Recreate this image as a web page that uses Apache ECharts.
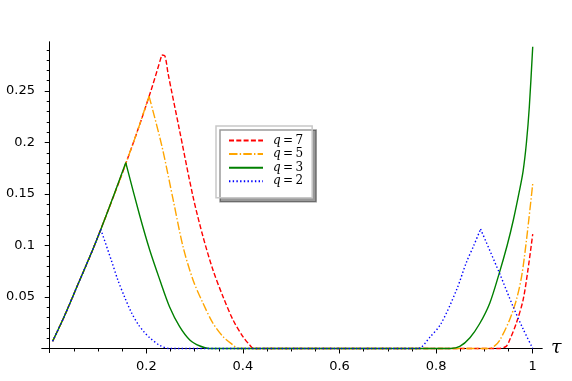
<!DOCTYPE html>
<html>
<head>
<meta charset="utf-8">
<script src="https://cdn.jsdelivr.net/npm/echarts@6/dist/echarts.min.js"></script>
<style>
  html, body { margin: 0; padding: 0; background: #fff; }
  #chart { width: 572px; height: 381px; }
</style>
</head>
<body>
<div id="chart"></div>
<script>
// values, [tau, value]
const q7Points = [
  [0.006, 0.007], [0.03, 0.031], [0.06, 0.064], [0.09, 0.097], [0.12, 0.133],
  [0.15, 0.170], [0.18, 0.209], [0.21, 0.251], [0.232, 0.285], [0.2385, 0.284],
  [0.245, 0.267], [0.267, 0.216], [0.2967, 0.1474], [0.3174, 0.1085], [0.338, 0.0762],
  [0.3588, 0.0503], [0.3795, 0.0277], [0.400, 0.0115], [0.414, 0.0034], [0.422, 0],
  [0.93, 0], [0.945, 0.002], [0.952, 0.008], [0.966, 0.0245], [0.98, 0.047],
  [0.99, 0.076], [1.0, 0.111]
];
const q5Points = [
  [0.006, 0.007], [0.03, 0.031], [0.06, 0.064], [0.09, 0.097], [0.12, 0.133],
  [0.15, 0.170], [0.18, 0.209], [0.2056, 0.245],
  [0.232, 0.197], [0.2553, 0.145], [0.276, 0.0988], [0.2967, 0.0665], [0.3174, 0.0439],
  [0.338, 0.0245], [0.3588, 0.0115], [0.3795, 0.0034], [0.39, 0],
  [0.91, 0], [0.92, 0.002], [0.9317, 0.008], [0.952, 0.0277], [0.966, 0.047],
  [0.977, 0.07], [0.987, 0.105], [1.0, 0.16]
];
const q3Points = [
  [0.006, 0.007], [0.03, 0.031], [0.06, 0.064], [0.09, 0.097], [0.12, 0.133],
  [0.1574, 0.1804],
  [0.186, 0.1296], [0.207, 0.0956], [0.228, 0.0665], [0.248, 0.0406], [0.269, 0.0212],
  [0.290, 0.0083], [0.311, 0.0024], [0.33, 0],
  [0.83, 0], [0.849, 0.002], [0.87, 0.0105], [0.89, 0.024], [0.911, 0.044],
  [0.93, 0.072], [0.947, 0.1], [0.96, 0.125], [0.972, 0.152], [0.98, 0.172],
  [0.987, 0.2], [0.993, 0.235], [1.0, 0.293]
];
const q2Points = [
  [0.006, 0.007], [0.03, 0.031], [0.06, 0.064], [0.09, 0.097], [0.1056, 0.1157],
  [0.128, 0.085], [0.141, 0.0665], [0.155, 0.050], [0.169, 0.035], [0.183, 0.0235],
  [0.195, 0.0163], [0.207, 0.0105], [0.228, 0.003], [0.247, 0],
  [0.762, 0], [0.787, 0.011], [0.81, 0.024], [0.842, 0.0566], [0.863, 0.084],
  [0.878, 0.1], [0.892, 0.116],
  [0.9317, 0.0725], [0.9586, 0.0415], [0.98, 0.019], [1.0, 0]
];

const seriesNames = ['q = 7', 'q = 5', 'q = 3', 'q = 2'];
const xMajorTicks = [0.2, 0.4, 0.6, 0.8, 1];
const xMinorTicks = [0.05, 0.1, 0.15, 0.25, 0.3, 0.35, 0.45, 0.5, 0.55, 0.65, 0.7, 0.75, 0.85, 0.9, 0.95];
const yMajorTicks = [0.05, 0.1, 0.15, 0.2, 0.25];
const yMinorTicks = [0.01, 0.02, 0.03, 0.04, 0.06, 0.07, 0.08, 0.09, 0.11, 0.12, 0.13, 0.14,
  0.16, 0.17, 0.18, 0.19, 0.21, 0.22, 0.23, 0.24, 0.26, 0.27, 0.28, 0.29];

const xMin = -0.016, xMax = 1.0192;
const yMin = -0.004, yMax = 0.2976;
const labelFont = { fontFamily: 'DejaVu Sans', fontSize: 13, color: '#000' };
const fmt = v => String(+(+v).toFixed(2));

function xAxisOf(ticks, len, withLabels) {
  return {
    type: 'value', position: 'bottom', min: xMin, max: xMax,
    axisLine: { onZero: true, lineStyle: { color: '#000', width: 1 } },
    axisTick: { customValues: ticks, length: len, lineStyle: { color: '#000' } },
    axisLabel: withLabels
      ? Object.assign({ customValues: ticks, margin: 8, formatter: fmt }, labelFont)
      : { show: false },
    splitLine: { show: false },
    name: withLabels ? 'τ' : '',
    nameLocation: 'end', nameGap: 9,
    nameTextStyle: { fontFamily: 'DejaVu Serif', fontStyle: 'italic', fontSize: 19, color: '#000',
      verticalAlign: 'middle', padding: [0, 0, 8, 0] }
  };
}
function yAxisOf(ticks, len, withLabels) {
  return {
    type: 'value', position: 'left', min: yMin, max: yMax,
    axisLine: { onZero: true, lineStyle: { color: '#000', width: 1 } },
    axisTick: { customValues: ticks, length: len, lineStyle: { color: '#000' } },
    axisLabel: withLabels
      ? Object.assign({ customValues: ticks, margin: 7, formatter: fmt }, labelFont)
      : { show: false },
    splitLine: { show: false }
  };
}

const styles = [
  { color: '#ff0000', type: [5, 2.3] },
  { color: '#ffa500', type: [8.5, 2.2, 1.4, 2.2] },
  { color: '#008000', type: 'solid' },
  { color: '#0000ff', type: [1.4, 2.3] }
];
const pointSets = [q7Points, q5Points, q3Points, q2Points];

// split a curve at its sharp peaks so smoothing keeps the corners
function splitAtPeaks(points) {
  const segs = [];
  let cur = [points[0]];
  for (let k = 1; k < points.length; k++) {
    cur.push(points[k]);
    const peak = k < points.length - 1 &&
      points[k][1] > points[k - 1][1] && points[k][1] > points[k + 1][1];
    if (peak) { segs.push(cur); cur = [points[k]]; }
  }
  segs.push(cur);
  return segs;
}

const series = [];
seriesNames.forEach((name, i) => {
  splitAtPeaks(pointSets[i]).forEach(seg => {
    series.push({
      name: name,
      type: 'line',
      data: seg,
      symbol: 'none',
      smooth: 0.3,
      lineStyle: { color: styles[i].color, width: 1.4, type: styles[i].type },
      itemStyle: { color: styles[i].color },
      z: 2 + i
    });
  });
});

const chart = echarts.init(document.getElementById('chart'), null, { renderer: 'canvas' });
chart.setOption({
  animation: false,
  backgroundColor: '#fff',
  grid: { left: 42, top: 42, width: 500, height: 310.6 },
  xAxis: [xAxisOf(xMajorTicks, 5, true), xAxisOf(xMinorTicks, 3, false)],
  yAxis: [yAxisOf(yMajorTicks, 5, true), yAxisOf(yMinorTicks, 3, false)],
  legend: {
    orient: 'vertical', left: 216, top: 126,
    padding: [8.5, 9, 10.5, 12],
    itemWidth: 34, itemHeight: 13.3, itemGap: 1.6,
    backgroundColor: '#fff', borderColor: '#c8c8c8', borderWidth: 1.5,
    shadowColor: 'rgba(0,0,0,0.4)', shadowOffsetX: 4, shadowOffsetY: 4, shadowBlur: 0,
    itemStyle: { opacity: 0, borderWidth: 0 },
    data: seriesNames,
    formatter: name => '{i|q}{n|\u2009=\u2009' + name.slice(-1) + '}',
    textStyle: {
      padding: [0, 0, 0, 5],
      rich: {
        i: { fontFamily: 'DejaVu Serif', fontStyle: 'italic', fontSize: 12, lineHeight: 13.3, color: '#000' },
        n: { fontFamily: 'DejaVu Serif', fontSize: 12, lineHeight: 13.3, color: '#000' }
      }
    }
  },
  series: series
});
</script>
</body>
</html>
